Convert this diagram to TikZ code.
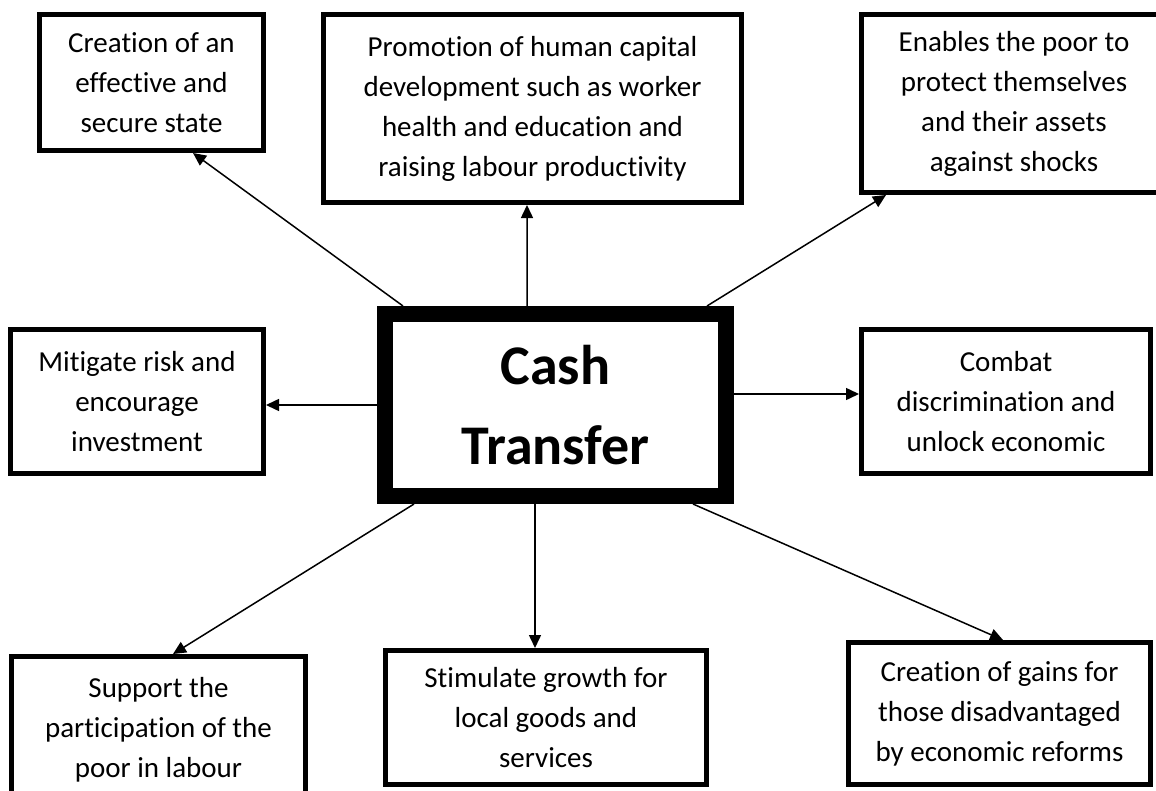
\documentclass[tikz,border=0pt]{standalone}
\usepackage{fontspec}
\setmainfont{Carlito}[Ligatures=NoCommon]
\usetikzlibrary{arrows.meta}
\tikzset{
  box/.style={draw=black, line width=5bp, fill=white, align=center, inner sep=0pt,
    font=\fontsize{29bp}{40bp}\selectfont},
  mainbox/.style={draw=black, line width=16bp, fill=white, align=center, inner sep=0pt,
    font=\fontsize{56bp}{80bp}\selectfont\bfseries},
  arr/.style={line width=1.5bp, -{Triangle[length=13bp,width=12bp]}}
}
\begin{document}
\begin{tikzpicture}[x=1bp, y=-1bp]
\useasboundingbox[fill=white] (0,0) rectangle (1156,791);
\node[box, minimum width=224bp, minimum height=136bp] (TL) at (151.5,82.5)
  {Creation of an\\effective and\\secure state};
\node[box, minimum width=418bp, minimum height=188bp] (TM) at (532.5,108.5)
  {Promotion of human capital\\development such as worker\\health and education and\\raising labour productivity};
\node[box, minimum width=305bp, minimum height=178bp] (TR) at (1014,103.5)
  {Enables the poor to\\protect themselves\\and their assets\\against shocks};
\node[box, minimum width=253bp, minimum height=144bp] (LM) at (137,401.5)
  {Mitigate risk and\\encourage\\investment};
\node[box, minimum width=289bp, minimum height=144bp] (RM) at (1006,401.5)
  {Combat\\discrimination and\\unlock economic};
\node[mainbox, minimum width=341bp, minimum height=182bp] (C) at (555.5,405)
  {Cash\\Transfer};
\node[box, minimum width=294bp, minimum height=147bp] (BL) at (158.5,730)
  {Support the\\participation of the\\poor in labour};
\node[box, minimum width=321bp, minimum height=134bp] (BM) at (546,717.5)
  {Stimulate growth for\\local goods and\\services};
\node[box, minimum width=302bp, minimum height=142bp] (BR) at (999.5,713.5)
  {Creation of gains for\\those disadvantaged\\by economic reforms};
\draw[arr] ([xshift=26bp]C.north west) -- ([xshift=41.5bp]TL.south);
\draw[arr] ([xshift=-28.5bp]C.north) -- ([xshift=-5.5bp]TM.south);
\draw[arr] ([xshift=-27bp]C.north east) -- ([xshift=27bp]TR.south west);
\draw[arr] (C.west) -- (C.west -| LM.east);
\draw[arr] ([yshift=11bp]C.east) -- ([yshift=11bp]C.east -| RM.west);
\draw[arr] ([xshift=37bp]C.south west) -- ([xshift=14.5bp]BL.north);
\draw[arr] ([xshift=-20.5bp]C.south) -- ([xshift=-20.5bp]C.south |- BM.north);
\draw[arr] ([xshift=-41bp]C.south east) -- ([xshift=3.5bp]BR.north);
\end{tikzpicture}
\end{document}
